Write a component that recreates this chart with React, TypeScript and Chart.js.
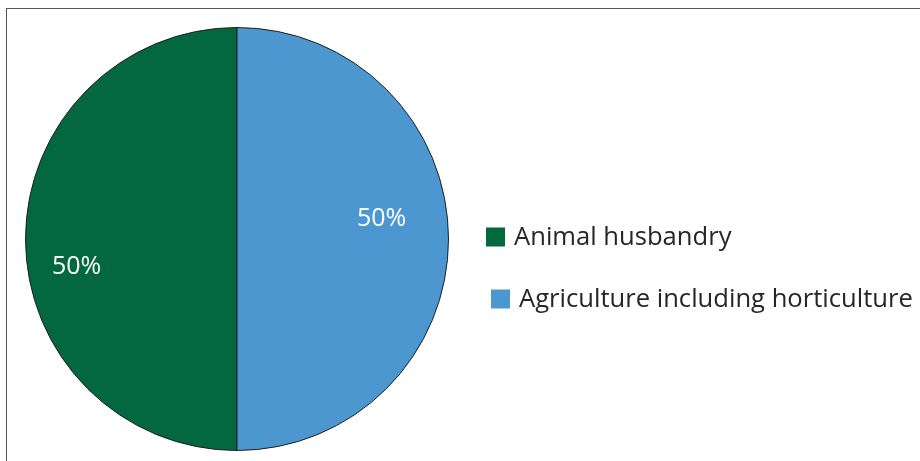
import React, { useEffect, useRef } from "react";
import { Chart, registerables } from "chart.js";

Chart.register(...registerables);

const categories = ["Animal husbandry", "Agriculture including horticulture"];
const shares = [50, 50];
const percentLabels = ["50%", "50%"];
const sliceColors = ["#036840", "#4D97D0"];

const FONT = "'Open Sans', 'Noto Sans', sans-serif";

const labelPlugin = {
  id: "sliceLabels",
  afterDatasetsDraw(chart: any, _args: any, opts: any) {
    const ctx = chart.ctx;
    const meta = chart.getDatasetMeta(0);
    ctx.save();
    ctx.fillStyle = "#ffffff";
    ctx.font = `${opts.fontSize}px ${FONT}`;
    ctx.textAlign = "center";
    ctx.textBaseline = "middle";
    meta.data.forEach((arc: any, i: number) => {
      const p = arc.getProps(["x", "y", "startAngle", "endAngle", "outerRadius"], true);
      const place = opts.places[i];
      const mid = (p.startAngle + p.endAngle) / 2 + (place.shift * Math.PI) / 180;
      const r = p.outerRadius * place.frac;
      ctx.fillText(percentLabels[i], p.x + Math.cos(mid) * r, p.y + Math.sin(mid) * r);
    });
    ctx.restore();
  },
};

const legendPlugin = {
  id: "sideLegend",
  afterDraw(chart: any, _args: any, opts: any) {
    const ctx = chart.ctx;
    const labels = chart.data.labels as string[];
    const bg = chart.data.datasets[0].backgroundColor as string[];
    ctx.save();
    ctx.font = `${opts.fontSize}px ${FONT}`;
    ctx.textBaseline = "middle";
    ctx.textAlign = "left";
    labels.forEach((lab, i) => {
      const it = opts.items[i];
      const box = opts.box;
      ctx.fillStyle = bg[i];
      ctx.fillRect(it.x, it.y - box / 2, box, box);
      ctx.fillStyle = "#262626";
      ctx.fillText(lab, it.x + box + opts.gap, it.y + 1);
    });
    ctx.restore();
  },
};

export default function App() {
  const ref = useRef<HTMLCanvasElement | null>(null);
  useEffect(() => {
    document.body.style.margin = "0";
    if (!ref.current) return;
    const chart = new Chart(ref.current, {
      type: "pie",
      data: {
        labels: categories,
        datasets: [
          {
            data: shares,
            backgroundColor: sliceColors,
            borderColor: "#1f1f1f",
            borderWidth: 1,
          },
        ],
      },
      options: {
        animation: false,
        responsive: false,
        rotation: 180,
        layout: { padding: { left: 25, top: 27, right: 471, bottom: 10 } },
        plugins: {
          legend: { display: false },
          tooltip: { enabled: false },
          sliceLabels: {
            fontSize: 25,
            places: [
              { frac: 0.77, shift: -9.8 },
              { frac: 0.69, shift: -7.8 },
            ],
          },
          sideLegend: {
            fontSize: 25.6,
            box: 19,
            gap: 9,
            items: [
              { x: 486, y: 237 },
              { x: 491, y: 299 },
            ],
          },
        } as any,
      },
      plugins: [labelPlugin, legendPlugin],
    });
    return () => chart.destroy();
  }, []);
  return (
    <div style={{ position: "relative", width: 920, height: 461, overflow: "hidden", background: "#fff" }}>
      <div
        style={{
          position: "absolute",
          left: 6,
          top: 8,
          width: 930,
          height: 470,
          border: "1px solid #555",
          boxSizing: "border-box",
        }}
      />
      <canvas ref={ref} width={920} height={461} style={{ position: "absolute", left: 0, top: 0 }} />
    </div>
  );
}
